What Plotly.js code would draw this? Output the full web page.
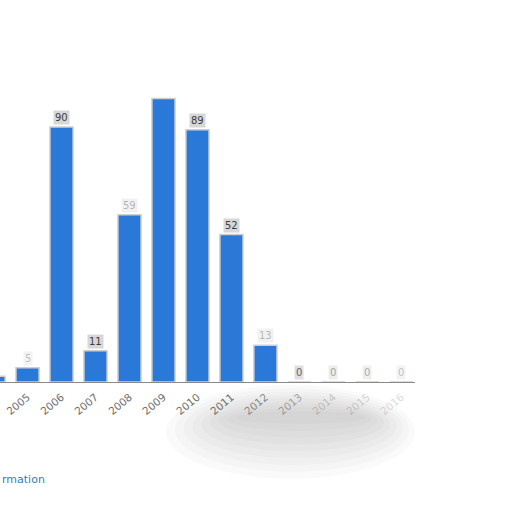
<!DOCTYPE html>
<html>
<head>
<meta charset="utf-8">
<script src="https://cdn.plot.ly/plotly-3.0.1.min.js"></script>
<style>
  html, body { margin: 0; padding: 0; background: #fff; }
  #chart { width: 512px; height: 512px; }
</style>
</head>
<body>
<div id="chart"></div>
<script>
// values
const years = [2004, 2005, 2006, 2007, 2008, 2009, 2010, 2011, 2012, 2013, 2014, 2015, 2016];
const counts = [2, 5, 90, 11, 59, 100, 89, 52, 13, 0, 0, 0, 0];
const labelText = ['2', '5', '90', '11', '59', '', '89', '52', '13', '0', '0', '0', '0'];
const labelAlpha = [0.3, 0.3, 1, 1, 0.35, 0, 1, 1, 0.35, 0.8, 0.45, 0.4, 0.3];
const tickAlpha = [1, 1, 1, 1, 1, 1, 1, 1, 0.8, 0.6, 0.35, 0.3, 0.25];

const tickText = years.map((y, i) =>
    `<span style="color:rgba(110,110,110,${tickAlpha[i]})">${y}</span>`);

// little grey pills above the bars
const annotations = years.map((y, i) => ({
    x: y, y: counts[i], xref: 'x', yref: 'y',
    text: labelText[i],
    showarrow: false,
    yanchor: 'bottom', yshift: 2,
    font: { family: 'DejaVu Sans', size: 10, color: `rgba(60,60,60,${labelAlpha[i]})` },
    bgcolor: `rgba(215,215,215,${labelAlpha[i]})`,
    borderpad: 1
})).filter(a => a.text !== '');

// cut-off link text at the bottom left
annotations.push({
    x: 0, y: -(479 - 382) / 322, xref: 'paper', yref: 'paper',
    xanchor: 'left', yanchor: 'middle',
    text: 'rmation', showarrow: false,
    font: { family: 'DejaVu Sans', size: 11, color: '#2f7fb8' }
});

// soft grey smudge under the axis: many faint nested ellipses
const smudge = [];
for (let k = 0; k < 9; k++) {
    const t = k / 8;
    smudge.push({
        type: 'circle', xref: 'paper', yref: 'paper', layer: 'below',
        x0: 0.40 + 0.17 * t, x1: 1.0 - 0.12 * t,
        y0: -0.30 + 0.17 * t, y1: -0.01 - 0.08 * t,
        fillcolor: '#777', opacity: 0.035, line: { width: 0 }
    });
}

const trace = {
    type: 'bar',
    x: years,
    y: counts,
    width: 0.68,
    marker: { color: '#2a78d8', line: { color: '#cfcfcf', width: 1.5 } },
    hoverinfo: 'x+y'
};

const layout = {
    width: 512, height: 512,
    margin: { l: 0, r: 97, t: 60, b: 130 },
    paper_bgcolor: '#fff', plot_bgcolor: 'rgba(0,0,0,0)',
    showlegend: false,
    xaxis: {
        range: [2004.19, 2016.4],
        tickvals: years, ticktext: tickText,
        tickangle: -40,
        tickfont: { family: 'DejaVu Sans', size: 10.5, color: '#6e6e6e' },
        showgrid: false, zeroline: false,
        showline: true, linecolor: '#8a8a8a', linewidth: 1,
        ticks: 'outside', ticklen: 4, tickcolor: 'rgba(0,0,0,0)',
        automargin: false
    },
    yaxis: {
        range: [0, 113.6],
        visible: false, showgrid: false, zeroline: false, fixedrange: true
    },
    annotations: annotations,
    shapes: smudge
};

Plotly.newPlot('chart', [trace], layout, { displayModeBar: false, staticPlot: true });
</script>
</body>
</html>
